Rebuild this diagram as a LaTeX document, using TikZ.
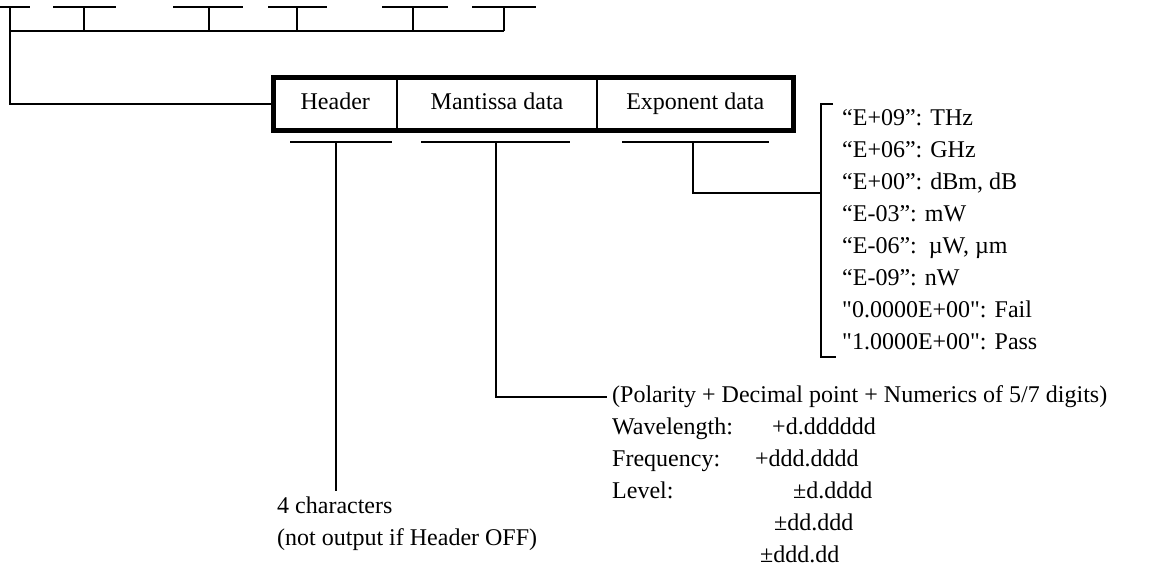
\documentclass[tikz,border=0pt]{standalone}
\usepackage{fontspec}
\setmainfont{Liberation Serif}
\usetikzlibrary{positioning,calc}
\newcommand{\txtfont}{\fontsize{24}{32}\selectfont}

\begin{document}
\begin{tikzpicture}[x=1pt,y=-1pt,
    wire/.style={line width=1.3pt},
    cell/.style={draw,line width=1pt,minimum height=52pt,inner sep=0pt,
      text height=16pt,text depth=5pt,font=\txtfont},
    note/.style={inner xsep=5pt,inner ysep=0pt,font=\txtfont,align=left}]
  \useasboundingbox (0,0) rectangle (1156,571);
  \node[cell,minimum width=122.5pt,anchor=north west] (header) at (273.5,77.5) {Header};
  \node[cell,minimum width=199pt,right=0pt of header] (mantissa) {Mantissa data};
  \node[cell,minimum width=195.5pt,right=0pt of mantissa] (exponent) {Exponent data};
  \draw[line width=5pt] (header.north west) rectangle (exponent.south east);

  \draw[wire] (0,7) -- (30,7) (53,7) -- (116,7) (173,7) -- (243,7)
    (268,7) -- (327,7) (382,7) -- (448,7) (472,7) -- (536,7);
  \draw[wire] (10,31) -- (504,31) (84,7) -- (84,31) (209,7) -- (209,31)
    (297,7) -- (297,31) (413,7) -- (413,31) (504,7) -- (504,31);
  \draw[wire] (10,7) |- (header.west);

  \draw[wire] (290,142) -- (392,142) (421,142) -- (570,142) (622,142) -- (769,142);
  \coordinate (hbar) at (336,142);
  \coordinate (mbar) at (496,142);
  \coordinate (ebar) at (693,142);

  \node[note,anchor=north west] (units) at (837,102.6) {\strut“E+09”: THz\\
    “E+06”: GHz\\
    “E+00”: dBm, dB\\
    “E-03”: mW\\
    “E-06”:\ \ µW, µm\\
    “E-09”: nW\\
    \textquotedbl 0.0000E+00\textquotedbl: Fail\\
    \textquotedbl 1.0000E+00\textquotedbl: Pass};
  \coordinate (brk) at (821,193);
  \draw[wire] (833,104) -- (821,104) -- (821,357) -- (836,357);
  \draw[wire] (ebar) |- (brk);

  \node[note,anchor=west] (polar) at (607,397) {(Polarity + Decimal point + Numerics of 5/7 digits)};
  \node[note,anchor=north west] (values) at (607,412.2) {\strut\makebox[160pt][l]{Wavelength:}+d.dddddd\\
    \makebox[143pt][l]{Frequency:}+ddd.dddd\\
    \makebox[181pt][l]{Level:}±d.dddd\\
    \hspace*{162pt}±dd.ddd\\
    \hspace*{148pt}±ddd.dd};
  \draw[wire] (mbar) |- (polar.west);

  \node[note,anchor=north west] (chars) at (272,490.6) {\strut 4 characters\\(not output if Header OFF)};
  \draw[wire] (hbar) -- (hbar |- chars.north);
\end{tikzpicture}
\end{document}
